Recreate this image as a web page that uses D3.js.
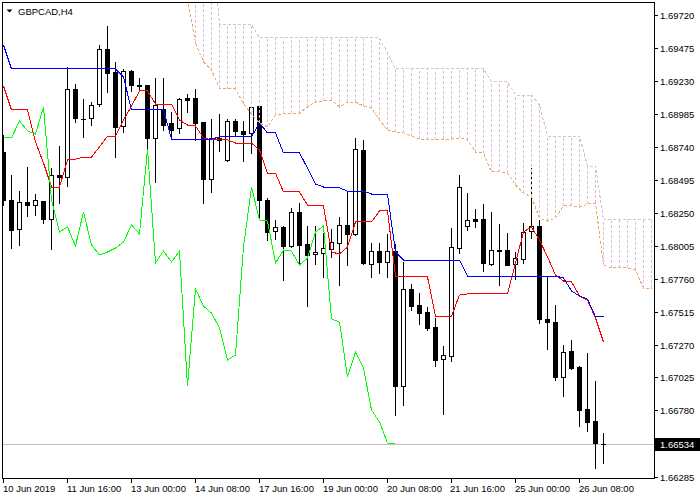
<!DOCTYPE html>
<html><head><meta charset="utf-8">
<script src="https://cdn.jsdelivr.net/npm/d3@7"></script>
<style>
body{margin:0;background:#fff;}
svg{display:block;}
text{font-family:'Liberation Sans',Arial,sans-serif;font-size:9.5px;fill:#000;}
</style>
</head><body>
<svg id="chart" width="700" height="500"></svg>
<script>
// ---- data (GBPCAD, H4) ----
const symbolTitle = "GBPCAD,H4";
const opens = [
1.68701,1.68345,1.68129,1.68330,1.68307,1.68337,1.68203,1.68530,1.68516,1.69170,
1.68954,1.68954,1.69058,1.69467,1.69296,1.68895,1.69304,1.69200,1.69200,1.68806,
1.69021,1.68917,1.68880,1.69103,1.69103,1.68924,1.68501,1.68791,1.68642,1.68932,
1.68858,1.68843,1.69043,1.68345,1.68114,1.68144,1.68003,1.68255,1.68017,1.67943,
1.67950,1.67980,1.68025,1.68159,1.68092,1.68716,1.67869,1.67965,1.67884,1.67965,
1.66962,1.67683,1.67564,1.67512,1.67400,1.67162,1.67185,1.67988,1.68151,1.68203,
1.68203,1.67869,1.67973,1.67973,1.67869,1.67906,1.68114,1.68151,1.67460,1.67437,
1.67029,1.67222,1.67103,1.66791,1.66701,1.66538];
const highs = [
1.68828,1.68530,1.68411,1.68590,1.68389,1.68337,1.68582,1.68746,1.69333,1.69207,
1.69095,1.69073,1.69497,1.69638,1.69371,1.69319,1.69311,1.69252,1.69200,1.69252,
1.69252,1.68999,1.69103,1.69133,1.69170,1.68924,1.68947,1.68984,1.68947,1.68947,
1.68932,1.69043,1.69043,1.68359,1.68196,1.68151,1.68285,1.68322,1.68151,1.68151,
1.68099,1.68129,1.68218,1.68411,1.68806,1.68791,1.68025,1.68025,1.68092,1.68017,
1.67884,1.67720,1.67653,1.67549,1.67467,1.67259,1.68136,1.68530,1.68397,1.68278,
1.68315,1.68255,1.68166,1.68099,1.67958,1.68174,1.68582,1.68196,1.67772,1.67564,
1.67266,1.67304,1.67110,1.67207,1.66999,1.66612];
const lows = [
1.68307,1.67988,1.68010,1.68226,1.68233,1.68174,1.67980,1.68322,1.68449,1.68924,
1.68813,1.68902,1.69043,1.69148,1.68664,1.68850,1.69155,1.69155,1.68731,1.68478,
1.68865,1.68806,1.68843,1.68999,1.68791,1.68322,1.68404,1.68709,1.68635,1.68820,
1.68635,1.68694,1.68218,1.68047,1.68055,1.67750,1.67995,1.67876,1.67556,1.67869,
1.67772,1.67921,1.67713,1.67861,1.68084,1.67869,1.67772,1.67802,1.67772,1.66746,
1.66820,1.67527,1.67423,1.67378,1.67110,1.66753,1.67148,1.67950,1.68121,1.68144,
1.67817,1.67861,1.67713,1.67861,1.67757,1.67876,1.68062,1.67430,1.67237,1.67006,
1.66887,1.67088,1.66664,1.66627,1.66352,1.66389];
const closes = [
1.68345,1.68121,1.68330,1.68307,1.68345,1.68203,1.68530,1.68516,1.69170,1.68954,
1.68947,1.69051,1.69467,1.69289,1.68887,1.69304,1.69200,1.69192,1.68806,1.69051,
1.68902,1.68865,1.69095,1.69088,1.68917,1.68501,1.68806,1.68806,1.68932,1.68858,
1.68835,1.69036,1.68345,1.68107,1.68144,1.68003,1.68255,1.68010,1.67936,1.67958,
1.67988,1.68032,1.68159,1.68092,1.68724,1.67876,1.67965,1.67884,1.67965,1.66962,
1.67683,1.67556,1.67504,1.67393,1.67155,1.67192,1.67995,1.68441,1.68196,1.68188,
1.67876,1.67973,1.67965,1.67861,1.67913,1.68107,1.68151,1.67460,1.67437,1.67029,
1.67214,1.67095,1.66783,1.66694,1.66538,1.66534];

// Ichimoku (9,26,52)
const tenkan = [
1.69192,1.69014,1.69014,1.69014,1.68776,1.68620,1.68441,1.68441,1.68642,1.68649,
1.68664,1.68664,1.68739,1.68820,1.68820,1.68939,1.69043,1.69155,1.69155,1.69058,
1.69058,1.69058,1.68939,1.68902,1.68895,1.68806,1.68791,1.68791,1.68791,1.68768,
1.68768,1.68768,1.68716,1.68545,1.68545,1.68404,1.68404,1.68404,1.68307,1.68300,
1.68300,1.67958,1.67943,1.67995,1.68181,1.68181,1.68181,1.68263,1.68263,1.67779,
1.67779,1.67779,1.67779,1.67772,1.67482,1.67482,1.67482,1.67638,1.67646,1.67646,
1.67646,1.67646,1.67646,1.67646,1.67876,1.68107,1.68144,1.68047,1.67921,1.67787,
1.67742,1.67735,1.67631,1.67601,1.67467,1.67289];
const kijun = [
1.69497,1.69319,1.69319,1.69319,1.69319,1.69319,1.69319,1.69319,1.69319,1.69319,
1.69319,1.69319,1.69319,1.69319,1.69319,1.69259,1.69014,1.69014,1.69014,1.69014,
1.69014,1.68798,1.68798,1.68798,1.68798,1.68798,1.68798,1.68813,1.68813,1.68813,
1.68813,1.68813,1.68917,1.68843,1.68843,1.68694,1.68694,1.68694,1.68582,1.68463,
1.68441,1.68434,1.68434,1.68411,1.68411,1.68411,1.68389,1.68389,1.68389,1.67958,
1.67898,1.67898,1.67898,1.67898,1.67898,1.67898,1.67898,1.67898,1.67779,1.67779,
1.67779,1.67779,1.67779,1.67779,1.67779,1.67779,1.67779,1.67779,1.67779,1.67779,
1.67765,1.67668,1.67631,1.67608,1.67475,1.67475];
// Chikou span: plotted 26 bars back (bar 0..49)
const chikou = [
1.68806,1.68806,1.68932,1.68858,1.68835,1.69036,1.68345,1.68107,1.68144,1.68003,
1.68255,1.68010,1.67936,1.67958,1.67988,1.68032,1.68159,1.68092,1.68724,1.67876,
1.67965,1.67884,1.67965,1.66962,1.67683,1.67556,1.67504,1.67393,1.67155,1.67192,
1.67995,1.68441,1.68196,1.68188,1.67876,1.67973,1.67965,1.67861,1.67913,1.68107,
1.68151,1.67460,1.67437,1.67029,1.67214,1.67095,1.66783,1.66694,1.66538,1.66534];
// Senkou spans, first value at bar 22 (shifted 26 ahead)
const spanStartBar = 22;
const senkouA = [
1.70129,1.69832,1.69512,1.69371,1.69311,1.69177,1.69170,1.69170,1.69058,1.68984,
1.68917,1.68887,1.68977,1.68984,1.68991,1.68991,1.69036,1.69073,1.69081,1.69088,
1.69036,1.69073,1.69073,1.69043,1.69029,1.68939,1.68865,1.68850,1.68843,1.68820,
1.68798,1.68791,1.68791,1.68798,1.68798,1.68806,1.68791,1.68701,1.68694,1.68553,
1.68553,1.68545,1.68456,1.68397,1.68367,1.68211,1.68188,1.68211,1.68300,1.68300,
1.68292,1.68315,1.68322,1.67861,1.67839,1.67839,1.67839,1.67824,1.67690,1.67690];
const senkouB = [
1.70278,1.70278,1.70278,1.70278,1.70278,1.69653,1.69653,1.69653,1.69653,1.69653,
1.69549,1.69549,1.69549,1.69549,1.69549,1.69549,1.69549,1.69549,1.69549,1.69549,
1.69549,1.69549,1.69549,1.69549,1.69549,1.69549,1.69437,1.69319,1.69319,1.69319,
1.69319,1.69319,1.69319,1.69319,1.69319,1.69319,1.69319,1.69319,1.69319,1.69222,
1.69222,1.69222,1.69125,1.69125,1.69125,1.69051,1.68820,1.68820,1.68820,1.68820,
1.68820,1.68597,1.68597,1.68196,1.68196,1.68196,1.68196,1.68196,1.68196,1.68196];

const timeTickBars = [0,8,16,24,32,40,48,56,64,72];
const timeLabels = ["10 Jun 2019","11 Jun 16:00","13 Jun 00:00","14 Jun 08:00","17 Jun 16:00",
                    "19 Jun 00:00","20 Jun 08:00","21 Jun 16:00","25 Jun 00:00","26 Jun 08:00"];
const priceTickLabels = ["1.69720","1.69475","1.69230","1.68985","1.68740","1.68495","1.68250",
                         "1.68005","1.67760","1.67515","1.67270","1.67025","1.66780","1.66285"];
const currentPrice = 1.66534;

// ---- layout ----
const L = 2, T = 2, R = 654, B = 478;
const svg = d3.select("#chart");
const x = d3.scaleLinear().domain([-0.1875, 81.3125]).range([L, R]);
const y = d3.scaleLinear().domain([1.66285, 1.69720]).range([477, 15]);
const ry = v => Math.round(y(v));

svg.append("rect").attr("width",700).attr("height",500).attr("fill","#fff");
svg.append("defs").append("clipPath").attr("id","clip")
  .append("rect").attr("x",L+1).attr("y",T+1).attr("width",R-L-1).attr("height",B-T-1);

const plot = svg.append("g").attr("clip-path","url(#clip)").attr("shape-rendering","crispEdges");

// current price line
plot.append("line").attr("x1",L).attr("x2",R)
  .attr("y1",ry(currentPrice)+0.5).attr("y2",ry(currentPrice)+0.5)
  .attr("stroke","#c0c0c0").attr("stroke-width",1);

// candles
const bars = d3.range(opens.length);
const cg = plot.append("g");
cg.selectAll("rect.wick").data(bars).join("rect").attr("class","wick")
  .attr("x", i => x(i)-0.5).attr("width",1)
  .attr("y", i => ry(highs[i]))
  .attr("height", i => ry(lows[i]) - ry(highs[i]) + 1)
  .attr("fill","#000");
bars.forEach(i => {
  const cx = x(i), yo = ry(opens[i]), yc = ry(closes[i]);
  if (Math.abs(y(opens[i]) - y(closes[i])) < 1) {
    cg.append("rect").attr("x",cx-2.5).attr("width",5).attr("y",yc).attr("height",1).attr("fill","#000");
  } else if (closes[i] > opens[i]) {
    cg.append("rect").attr("x",cx-2).attr("width",4).attr("y",yc+0.5).attr("height",yo-yc)
      .attr("fill","#fff").attr("stroke","#000").attr("stroke-width",1);
  } else {
    cg.append("rect").attr("x",cx-2.5).attr("width",5).attr("y",yo).attr("height",Math.max(1,yc-yo+1))
      .attr("fill","#000");
  }
});

// Ichimoku lines
const line = d3.line().x(d => x(d[0])).y(d => y(d[1]));
const pairs = (arr, start) => arr.map((v,k) => [start+k, v]);
plot.append("path").datum(pairs(tenkan,0)).attr("d",line)
  .attr("fill","none").attr("stroke","#ff0000").attr("stroke-width",1);
plot.append("path").datum(pairs(kijun,0)).attr("d",line)
  .attr("fill","none").attr("stroke","#0000ff").attr("stroke-width",1);
plot.append("path").datum(pairs(senkouA,spanStartBar)).attr("d",line)
  .attr("fill","none").attr("stroke","#f4a460").attr("stroke-width",1).attr("stroke-dasharray","3,2");
plot.append("path").datum(pairs(senkouB,spanStartBar)).attr("d",line)
  .attr("fill","none").attr("stroke","#d8bfd8").attr("stroke-width",1).attr("stroke-dasharray","3,2");
plot.append("path").datum(pairs(chikou,0)).attr("d",line)
  .attr("fill","none").attr("stroke","#00ff00").attr("stroke-width",1);

// cloud hatching
plot.append("g").selectAll("line").data(d3.range(senkouA.length)).join("line")
  .attr("x1", k => x(spanStartBar+k)).attr("x2", k => x(spanStartBar+k))
  .attr("y1", k => y(senkouA[k])).attr("y2", k => y(senkouB[k]))
  .attr("stroke", k => senkouA[k] >= senkouB[k] ? "#f4a460" : "#d8bfd8")
  .attr("stroke-width",1).attr("stroke-dasharray","3,2");

// frame
svg.append("rect").attr("x",L+0.5).attr("y",T+0.5).attr("width",R-L).attr("height",B-T)
  .attr("fill","none").attr("stroke","#000").attr("stroke-width",1).attr("shape-rendering","crispEdges");

// x axis ticks & labels
const xt = svg.append("g").attr("shape-rendering","crispEdges");
xt.selectAll("line").data(timeTickBars).join("line")
  .attr("x1", b => x(b)).attr("x2", b => x(b)).attr("y1",B+1).attr("y2",B+5)
  .attr("stroke","#000");
svg.append("g").selectAll("text").data(timeTickBars).join("text")
  .attr("x", (b) => Math.round(x(b)) - 1).attr("y", 492)
  .text((b,k) => timeLabels[k]);

// y axis ticks & labels
const priceVals = priceTickLabels.map(Number);
const yt = svg.append("g").attr("shape-rendering","crispEdges");
yt.selectAll("line").data(priceVals).join("line")
  .attr("x1",R+1).attr("x2",R+4).attr("y1", v => ry(v)+0.5).attr("y2", v => ry(v)+0.5)
  .attr("stroke","#000");
svg.append("g").selectAll("text").data(priceVals).join("text")
  .attr("x", 660).attr("y", v => ry(v)+3.5)
  .text((v,k) => priceTickLabels[k]);

// current price tag
const cpY = ry(currentPrice);
svg.append("rect").attr("x",655).attr("y",cpY-6).attr("width",45).attr("height",13).attr("fill","#000");
svg.append("text").attr("x",660).attr("y",cpY+3.5).style("fill","#fff").text(currentPrice.toFixed(5));

// title
svg.append("path").attr("d","M6.5,9.5 L12.5,9.5 L9.5,12.5 Z").attr("fill","#000");
svg.append("text").attr("x",18).attr("y",14.5).text(symbolTitle);
</script>
</body></html>
